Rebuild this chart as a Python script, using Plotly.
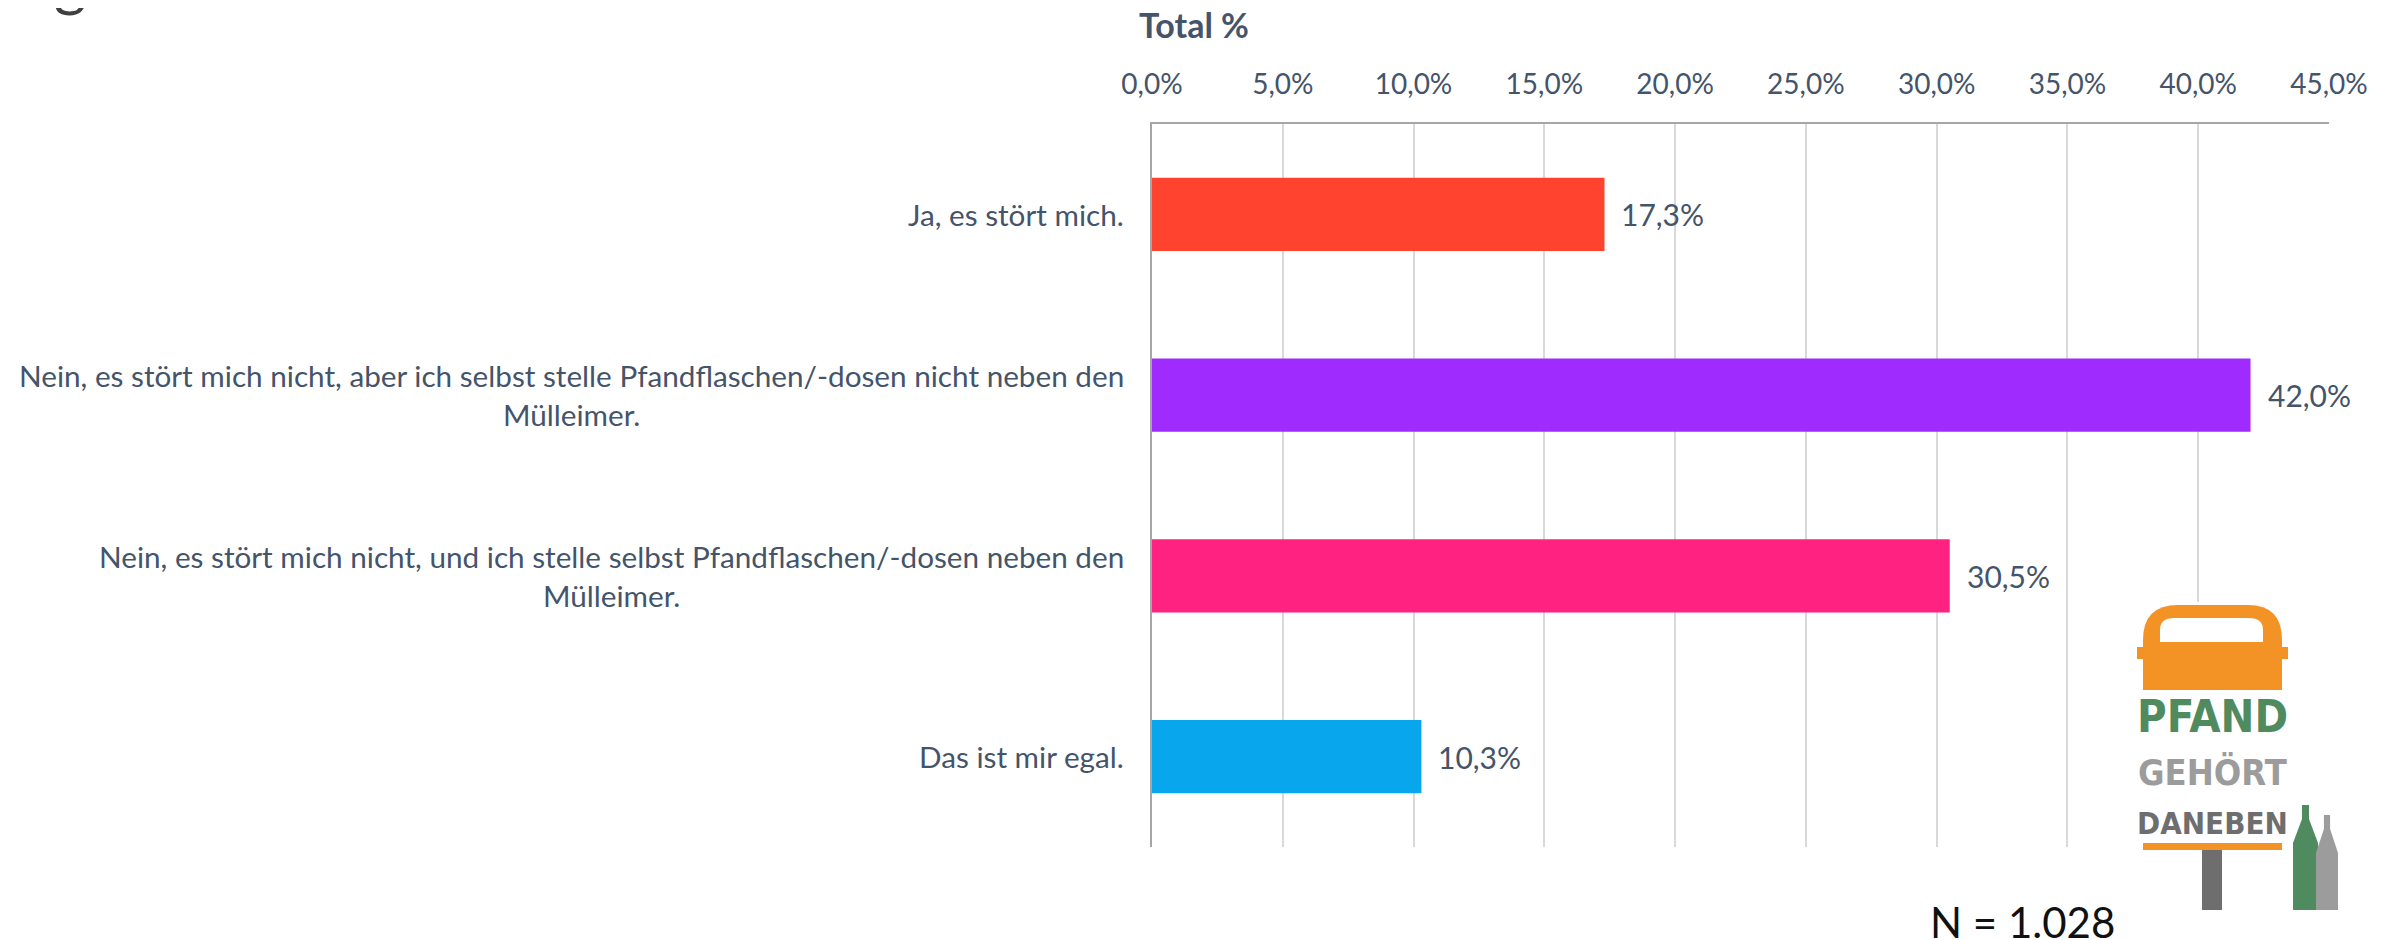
import plotly.graph_objects as go

# ---- data ----
categories = [
    "Ja, es stört mich.",
    "Nein, es stört mich nicht, aber ich selbst stelle Pfandflaschen/-dosen nicht neben den<br>Mülleimer.",
    "Nein, es stört mich nicht, und ich stelle selbst Pfandflaschen/-dosen neben den<br>Mülleimer.",
    "Das ist mir egal.",
]
values = [0.173, 0.420, 0.305, 0.103]
bar_colors = ["#FF432E", "#A02BFF", "#FF2280", "#08A6EC"]
tick_vals = [0.0, 0.05, 0.10, 0.15, 0.20, 0.25, 0.30, 0.35, 0.40, 0.45]
axis_title = "Total %"
n_label = "N = 1.028"

W, H = 2397, 940
OFF = 8  # default page body margin
# desired plot area in page pixels
PL, PR, PT, PB = 1152, 2329, 124, 847
ML, MT = PL - OFF, PT - OFF
MR, MB = W - (PR - OFF), H - (PB - OFF)

def px(x):
    return (x - PL) / (PR - PL)

def py(y):
    return (PB - y) / (PB - PT)

TXT = "#44546A"
FONT = "Lato, Open Sans, sans-serif"

fig = go.Figure()
fig.add_trace(go.Bar(
    y=categories, x=values, orientation="h",
    marker=dict(color=bar_colors, line=dict(width=0)),
    hoverinfo="x+y",
))

annotations = []
# category labels (centered multi-line blocks, right-anchored)
for c in categories:
    annotations.append(dict(
        x=0, xref="paper", y=c, yref="y", text=c, showarrow=False,
        xanchor="right", yanchor="middle", align="center", xshift=-26,
        font=dict(family=FONT, size=29.7, color=TXT),
    ))
# value labels
for c, v in zip(categories, values):
    annotations.append(dict(
        x=v, xref="x", y=c, yref="y",
        text=f"{v*100:.1f}%".replace(".", ","), showarrow=False,
        xanchor="left", yanchor="middle", xshift=15,
        font=dict(family=FONT, size=30, color=TXT),
    ))
# axis title
annotations.append(dict(
    x=px(1194), xref="paper", y=py(24), yref="paper", text="<b>" + axis_title + "</b>",
    showarrow=False, xanchor="center", yanchor="middle",
    font=dict(family=FONT, size=34, color=TXT),
))
# N label
annotations.append(dict(
    x=px(2022), xref="paper", y=py(922), yref="paper", text=n_label,
    showarrow=False, xanchor="center", yanchor="middle",
    font=dict(family=FONT, size=42, color="#111111"),
))
# clipped slide title descender
annotations.append(dict(
    x=px(70), xref="paper", y=py(-20), yref="paper", text="g",
    showarrow=False, xanchor="center", yanchor="middle",
    font=dict(family=FONT, size=62, color="#404040"),
))

# ---- logo (decoration) ----
shapes = []
ORANGE = "#F39325"
GREEN = "#4F8B5E"
LGREY = "#9C9C9C"
DGREY = "#6E6E6E"

def rect(x0, y0, x1, y1, color):
    shapes.append(dict(type="rect", xref="paper", yref="paper",
                       x0=px(x0), x1=px(x1), y0=py(y1), y1=py(y0),
                       fillcolor=color, line=dict(width=0), layer="above"))

def add_path(d, color):
    shapes.append(dict(type="path", xref="paper", yref="paper", path=d,
                       fillcolor=color, line=dict(width=0), layer="above"))

# white background of logo image covering gridlines
rect(2130, 602, 2345, 912, "#FFFFFF")
# orange bin top (rounded)
add_path(f"M {px(2143)},{py(690)} L {px(2143)},{py(640)} "
         f"Q {px(2143)},{py(605)} {px(2178)},{py(605)} "
         f"L {px(2248)},{py(605)} Q {px(2282)},{py(605)} {px(2282)},{py(640)} "
         f"L {px(2282)},{py(690)} Z", ORANGE)
# side nubs
rect(2137, 647, 2288, 659, ORANGE)
# inner opening
add_path(f"M {px(2160)},{py(642)} L {px(2160)},{py(630)} "
         f"Q {px(2160)},{py(618)} {px(2174)},{py(618)} "
         f"L {px(2249)},{py(618)} Q {px(2263)},{py(618)} {px(2263)},{py(630)} "
         f"L {px(2263)},{py(642)} Z", "#FFFFFF")
# orange bar under text
rect(2143, 843, 2282, 850, ORANGE)
# post
rect(2202, 850, 2222, 910, DGREY)

def bottle(x0, x1, ytop, ybot, color):
    w = x1 - x0
    neck0 = x0 + w * 0.36
    neck1 = x0 + w * 0.64
    add_path(f"M {px(x0)},{py(ybot)} L {px(x0)},{py(ytop + 38)} "
             f"L {px(neck0)},{py(ytop + 14)} L {px(neck0)},{py(ytop)} "
             f"L {px(neck1)},{py(ytop)} L {px(neck1)},{py(ytop + 14)} "
             f"L {px(x1)},{py(ytop + 38)} L {px(x1)},{py(ybot)} Z", color)

bottle(2293, 2318, 805, 910, GREEN)
bottle(2316, 2338, 815, 910, LGREY)

LOGO_FONT = "Liberation Sans Narrow, DejaVu Sans Condensed, Roboto, sans-serif"
for txt, yc, col, sz in [("PFAND", 716, GREEN, 45), ("GEHÖRT", 772, LGREY, 36), ("DANEBEN", 823, DGREY, 31)]:
    annotations.append(dict(
        x=px(2212), xref="paper", y=py(yc), yref="paper", text=f"<b>{txt}</b>",
        showarrow=False, xanchor="center", yanchor="middle",
        font=dict(family=LOGO_FONT, size=sz, color=col),
    ))

fig.update_layout(
    width=W, height=H,
    margin=dict(l=ML, r=MR, t=MT, b=MB, pad=0, autoexpand=False),
    paper_bgcolor="white", plot_bgcolor="white",
    separators=",.",
    bargap=0.596,
    showlegend=False,
    xaxis=dict(
        side="top", range=[0, 0.45], tickvals=tick_vals, tickformat=".1%",
        showgrid=True, gridcolor="#D9D9D9", gridwidth=2,
        showline=True, linecolor="#A6A6A6", linewidth=2, mirror=False,
        zeroline=False, ticks="", ticklabelstandoff=17, automargin=False,
        tickfont=dict(family=FONT, size=28, color=TXT),
    ),
    yaxis=dict(
        type="category", autorange="reversed", showticklabels=False,
        showgrid=False, zeroline=False, automargin=False,
        showline=True, linecolor="#A6A6A6", linewidth=2, ticks="",
    ),
    annotations=annotations,
    shapes=shapes,
)

fig.write_html("out.html")
